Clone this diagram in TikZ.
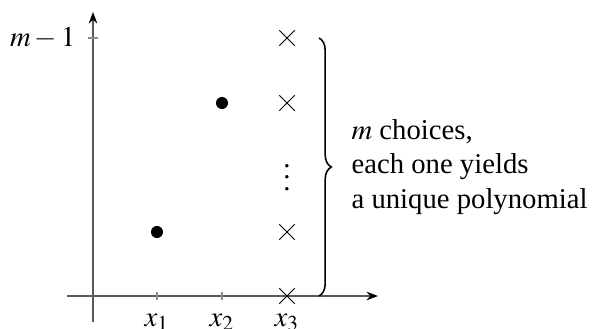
\documentclass[tikz,border=0pt]{standalone}
\usepackage{mathptmx}
\usepackage[no-math]{fontspec}
\setmainfont{Liberation Serif}
\usetikzlibrary{arrows.meta,shapes.misc,decorations.pathreplacing}
\tikzset{
  axisline/.style={draw=black!65, line width=0.45pt, -{Stealth[length=4pt,width=3pt,black]}},
  tickline/.style={draw=black!45, line width=0.4pt},
  dotmark/.style={circle, fill=black, inner sep=0pt, minimum size=4.2pt},
  crossmark/.style={cross out, draw=black, line width=0.35pt, inner sep=0pt, minimum size=5pt},
  bracestyle/.style={decorate, decoration={brace, amplitude=4.3pt}, line width=0.55pt},
}
\begin{document}
\begin{tikzpicture}[x=0.3484pt, y=-0.3484pt]
\useasboundingbox (0,0) rectangle (592,328);
% axes
\coordinate (xs) at (67,296);
\coordinate (xe) at (378,296);
\coordinate (ys) at (93,322);
\coordinate (ye) at (93,12);
\draw[axisline] (xs) -- (xe);
\draw[axisline] (ys) -- (ye);
% ticks
\coordinate (t1a) at (157,292); \coordinate (t1b) at (157,300);
\coordinate (t2a) at (222,292); \coordinate (t2b) at (222,300);
\coordinate (tya) at (88,38);  \coordinate (tyb) at (98,38);
\draw[tickline] (t1a) -- (t1b);
\draw[tickline] (t2a) -- (t2b);
\draw[tickline] (tya) -- (tyb);
% labels
\node[anchor=mid east, inner sep=0pt] (lm) at (76,40) {$m-1$};
\node[anchor=base, inner sep=0pt] (lx1) at (157,326) {$x_1$};
\node[anchor=base, inner sep=0pt] (lx2) at (222,326) {$x_2$};
\node[anchor=base, inner sep=0pt] (lx3) at (287,326) {$x_3$};
% points
\node[dotmark] (p1) at (157,232) {};
\node[dotmark] (p2) at (222,103) {};
% crosses
\node[crossmark] (c0) at (287,296) {};
\node[crossmark] (c1) at (287,232) {};
\node[crossmark] (c3) at (287,103) {};
\node[crossmark] (c4) at (287,38) {};
\node[inner sep=0pt] (vd) at (287,169) {$\vdots$};
% brace
\coordinate (bt) at (319,38);
\coordinate (bb) at (319,296);
\draw[bracestyle] (bt) -- (bb);
% text
\node[anchor=west, align=left, inner sep=0pt] (txt) at (351,167) {$m$ choices,\\each one yields\\a unique polynomial};
\end{tikzpicture}
\end{document}
